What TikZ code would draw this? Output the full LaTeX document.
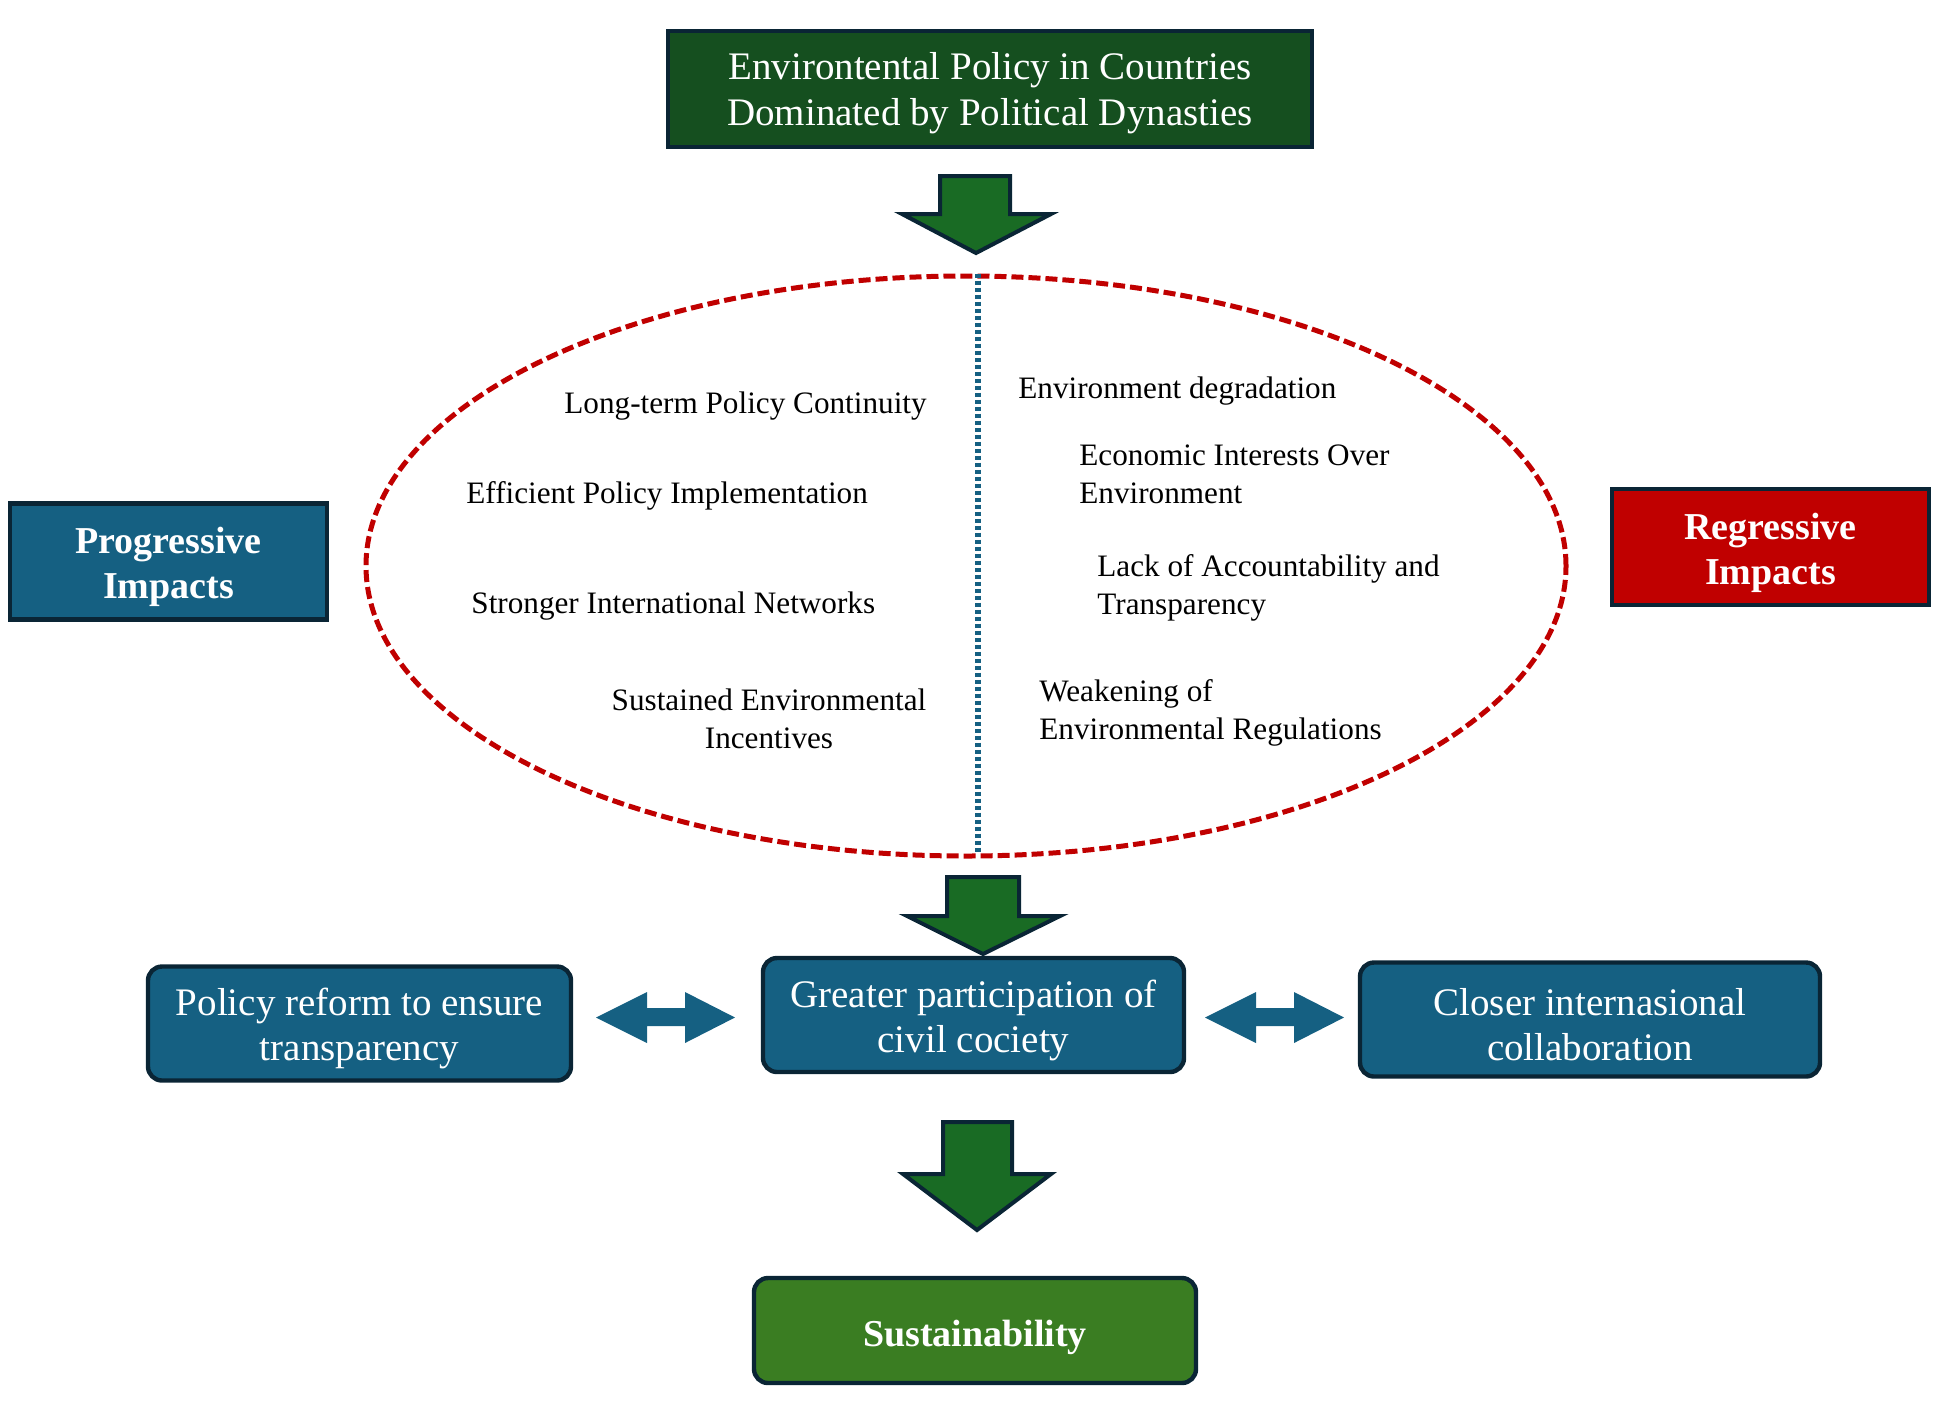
\documentclass[tikz,border=0pt]{standalone}
\usepackage{fontspec}
\setmainfont{Liberation Serif}
\usepackage{tikz}
\usetikzlibrary{positioning,shapes.geometric}
\usepackage{xcolor}

\definecolor{edgenavy}{HTML}{0A2535}
\definecolor{titlegreen}{HTML}{154F1F}
\definecolor{flowgreen}{HTML}{196B24}
\definecolor{sustgreen}{HTML}{3A7D22}
\definecolor{impactblue}{HTML}{156082}
\definecolor{impactred}{HTML}{C00000}

% pushes box text down a little
\newcommand{\lowstrut}[1]{\rule{0pt}{#1}}

\begin{document}
\begin{tikzpicture}[
  x=0.5pt, y=-0.5pt,
  box/.style={rectangle, draw=edgenavy, line width=2.2pt, text=white,
              align=center, inner sep=0pt},
  titlebox/.style={box, fill=titlegreen, minimum width=322pt, minimum height=58pt,
                   font=\fontsize{19.5}{23}\selectfont},
  sidebox/.style={box, minimum width=158.5pt, minimum height=58pt,
                  font=\fontsize{19}{22.5}\selectfont\bfseries},
  stepbox/.style={box, rounded corners=7pt, fill=impactblue, minimum height=57pt,
                  font=\fontsize{19.5}{22.5}\selectfont},
  goalbox/.style={box, rounded corners=7pt, fill=sustgreen, minimum width=221pt,
                  minimum height=52.5pt, font=\fontsize{19}{22.5}\selectfont\bfseries},
  item/.style={inner sep=0pt, font=\fontsize{15.6}{19}\selectfont},
  blockarrow/.style={draw=edgenavy, line width=2pt, fill=flowgreen, line join=miter},
  twoway/.style={fill=impactblue},
  oval/.style={ellipse, draw=impactred, line width=2.5pt, dash pattern=on 6pt off 2.5pt,
               minimum width=600pt, minimum height=290pt, inner sep=0pt},
  divider/.style={draw=impactblue, line width=2.6pt, dash pattern=on 2pt off 1.5pt}
]
  \useasboundingbox (0,0) rectangle (1948,1409);

  % title
  \node[titlebox] (title) at (990,89) {\lowstrut{17.5pt}Environtental Policy in Countries\\Dominated by Political Dynasties};
  \draw[blockarrow] (940,176) -- (1010,176) -- (1010,214) -- (1051,214) -- (976,253)
                    -- (902,214) -- (940,214) -- cycle;

  % impacts
  \node[oval] (impacts) at (966,566) {};
  \draw[divider] (impacts.north) ++(12,0) -- ++(0,580);
  \node[sidebox, fill=impactblue] (prog) at (168.5,561.5) {\lowstrut{18.5pt}Progressive\\Impacts};
  \node[sidebox, fill=impactred] (regr) at (1770.5,547) {\lowstrut{19pt}Regressive\\Impacts};

  \node[item, anchor=base west] (p1) at (564,413) {Long-term Policy Continuity};
  \node[item, anchor=base west] (p2) at (466,503) {Efficient Policy Implementation};
  \node[item, anchor=base west] (p3) at (471,613) {Stronger International Networks};
  \node[item, anchor=north, align=center] (p4) at (769,688) {Sustained Environmental\\Incentives};

  \node[item, anchor=base west] (r1) at (1018,398) {Environment degradation};
  \node[item, anchor=north west, align=left] (r2) at (1079,444) {Economic Interests Over\\Environment};
  \node[item, anchor=north west, align=left] (r3) at (1097,554) {Lack of Accountability and\\Transparency};
  \node[item, anchor=north west, align=left] (r4) at (1039,679) {Weakening of\\Environmental Regulations};

  \draw[blockarrow] (947,877) -- (1019,877) -- (1019,916) -- (1060,916) -- (983,954)
                    -- (907,916) -- (947,916) -- cycle;

  % outcomes
  \node[stepbox, minimum width=210.5pt] (civil) at (973.5,1015) {\lowstrut{19pt}Greater participation of\\civil cociety};
  \node[stepbox, minimum width=211.5pt] (reform) at (359.5,1023.5) {\lowstrut{18.5pt}Policy reform to ensure\\transparency};
  \node[stepbox, minimum width=230pt] (collab) at (1590,1019.5) {\lowstrut{18.5pt}Closer internasional\\collaboration};

  \fill[twoway] (596,1017.5) -- (647,992) -- (647,1008) -- (685,1008) -- (685,992) -- (735,1017.5)
                -- (685,1043) -- (685,1026) -- (647,1026) -- (647,1043) -- cycle;
  \fill[twoway] (1205,1017.5) -- (1256,992) -- (1256,1008) -- (1294,1008) -- (1294,992) -- (1344,1017.5)
                -- (1294,1043) -- (1294,1026) -- (1256,1026) -- (1256,1043) -- cycle;

  \draw[blockarrow] (943,1122) -- (1012,1122) -- (1012,1174) -- (1051,1174) -- (977,1230)
                    -- (903,1174) -- (943,1174) -- cycle;

  \node[goalbox] (goal) at (975,1330.5) {\lowstrut{20.5pt}Sustainability};
\end{tikzpicture}
\end{document}
